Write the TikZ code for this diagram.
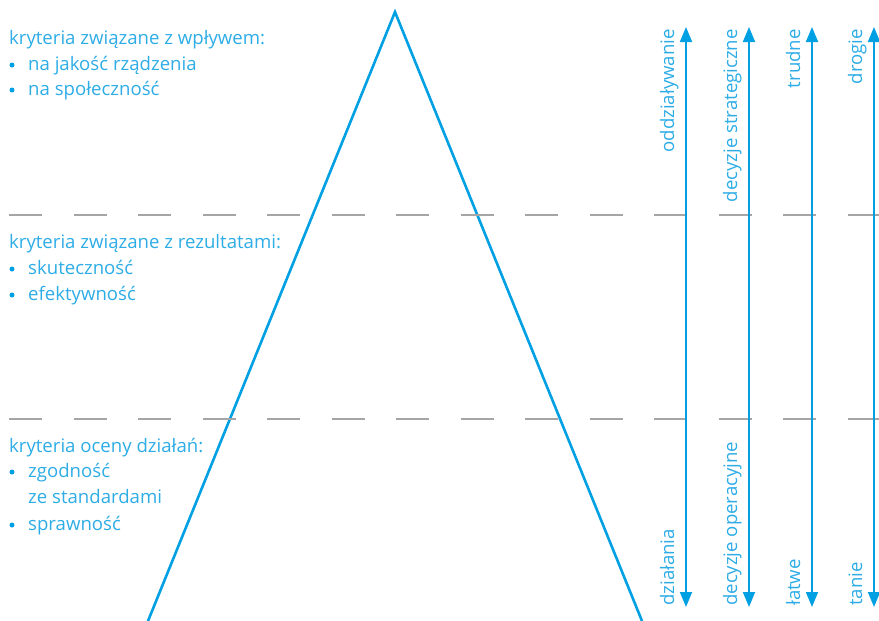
\documentclass[tikz,border=0pt]{standalone}
\usepackage{fontspec}
\setmainfont{Open Sans}
\usetikzlibrary{arrows.meta}

\definecolor{niebieski}{RGB}{0,160,227}
\definecolor{jasny}{RGB}{45,172,230}
\definecolor{szary}{RGB}{165,165,165}

\begin{document}
\begin{tikzpicture}[x=1pt, y=-1pt,
    txt/.style={text=jasny, font=\fontsize{18.6}{22}\selectfont, inner sep=0pt, anchor=base west},
    pion/.style={txt, rotate=90},
    kropka/.style={circle, fill=niebieski, inner sep=0pt, minimum size=5pt},
    strz/.style={niebieski, line width=1.8pt, {Triangle[length=15pt,width=12pt]}-{Triangle[length=15pt,width=12pt]}},
    kreska/.style={szary, line width=1.5pt, dash pattern=on 33pt off 31.5pt}]

    \useasboundingbox (0,0) rectangle (879,621);

    \def \tx {9};   % poczatek naglowkow
    \def \ix {28};  % poczatek punktow
    \def \bx {12};  % kropki

    % piramida
    \coordinate (szczyt) at (395,12);
    \coordinate (lewy) at (148,621);
    \coordinate (prawy) at (642,621);
    \draw[niebieski, line width=2.6pt, line join=miter] (lewy) -- (szczyt) -- (prawy);

    % linie przerywane
    \foreach \y in {215, 419}
        \draw[kreska] (\tx,\y) -- (879,\y);

    % strzalki
    \foreach \x/\n in {686/a, 749/b, 812/c, 874/d} {
        \coordinate (g\n) at (\x,27);
        \coordinate (d\n) at (\x,607);
        \draw[strz] (d\n) -- (g\n);
    }

    % opisy strzalek
    \node[pion, anchor=base east] (oddz) at (674,29) {oddziaływanie};
    \node[pion, anchor=base west] (dzia) at (674,606) {działania};
    \node[pion, anchor=base east] (strat) at (737,29) {decyzje strategiczne};
    \node[pion, anchor=base west] (oper) at (737,606) {decyzje operacyjne};
    \node[pion, anchor=base east] (trud) at (800,29) {trudne};
    \node[pion, anchor=base west] (latw) at (800,606) {łatwe};
    \node[pion, anchor=base east] (drog) at (862,29) {drogie};
    \node[pion, anchor=base west] (tani) at (862,606) {tanie};

    % wplyw
    \node[txt] (wplyw) at (\tx,45) {kryteria związane z wpływem:};
    \node[kropka] (k1) at (\bx,65) {};
    \node[txt] (jakosc) at (\ix,70) {na jakość rządzenia};
    \node[kropka] (k2) at (\bx,90) {};
    \node[txt] (spol) at (\ix,95) {na społeczność};

    % rezultaty
    \node[txt] (rezul) at (\tx,248) {kryteria związane z rezultatami:};
    \node[kropka] (k3) at (\bx,269) {};
    \node[txt] (skut) at (\ix,274) {skuteczność};
    \node[kropka] (k4) at (\bx,295) {};
    \node[txt] (efek) at (\ix,300) {efektywność};

    % ocena dzialan
    \node[txt] (ocena) at (\tx,452) {kryteria oceny działań:};
    \node[kropka] (k5) at (\bx,472) {};
    \node[txt] (zgod) at (\ix,477) {zgodność};
    \node[txt] (stand) at (\ix,503) {ze standardami};
    \node[kropka] (k6) at (\bx,525) {};
    \node[txt] (spraw) at (\ix,530) {sprawność};

\end{tikzpicture}
\end{document}
